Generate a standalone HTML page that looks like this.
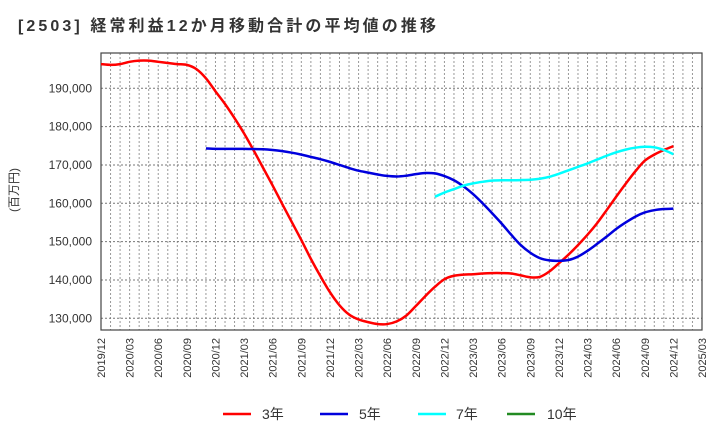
<!DOCTYPE html>
<html><head><meta charset="utf-8">
<style>
body{margin:0;background:#fff;font-family:"Liberation Sans","Noto Sans CJK JP",sans-serif;}
svg text{font-family:"Liberation Sans","Noto Sans CJK JP",sans-serif;}
</style></head>
<body>
<svg id="chart" width="720" height="440" xmlns="http://www.w3.org/2000/svg">
<text x="18" y="31" font-size="16" font-weight="bold" fill="#333" textLength="418" lengthAdjust="spacing">[2503]  経常利益12か月移動合計の平均値の推移</text>
<text transform="translate(18,190) rotate(-90)" text-anchor="middle" font-size="12" fill="#333">(百万円)</text>
<g id="grid"></g>
<g id="axes"></g>
<g id="series"></g>
<g font-size="14" fill="#333">
 <g><line x1="223" y1="414" x2="251" y2="414" stroke="#ff0000" stroke-width="2.5"/><text x="262" y="419">3年</text></g>
 <g><line x1="320" y1="414" x2="348" y2="414" stroke="#0000dd" stroke-width="2.5"/><text x="359" y="419">5年</text></g>
 <g><line x1="418" y1="414" x2="446" y2="414" stroke="#00ffff" stroke-width="2.5"/><text x="456" y="419">7年</text></g>
 <g><line x1="507" y1="414" x2="535" y2="414" stroke="#228b22" stroke-width="2.5"/><text x="547" y="419">10年</text></g>
</g>
</svg>
<script>
const xTickLabels=["2019/12","2020/03","2020/06","2020/09","2020/12","2021/03","2021/06","2021/09","2021/12","2022/03","2022/06","2022/09","2022/12","2023/03","2023/06","2023/09","2023/12","2024/03","2024/06","2024/09","2024/12","2025/03"];
const yTicks=[130000,140000,150000,160000,170000,180000,190000];
const series3y=[196300,196100,196300,196900,197200,197200,196900,196600,196300,196100,195000,192600,189200,185900,182200,178200,173800,169200,164600,159800,155100,150400,145500,141000,136800,133400,131000,129700,129000,128500,128500,129200,130700,133200,135800,138200,140200,141100,141400,141500,141700,141800,141800,141700,141200,140700,140800,142200,144350,146600,149100,151800,154800,158200,161700,165100,168300,171100,172700,173900,174900];
const series5yStart=11;
const series5y=[174300,174200,174200,174200,174200,174150,174100,173900,173600,173200,172700,172100,171500,170800,170000,169200,168500,168000,167500,167150,167000,167200,167600,167900,167800,167100,166000,164400,162400,160000,157400,154700,151800,149100,147100,145700,145100,145000,145200,146100,147600,149400,151300,153300,155000,156500,157600,158200,158500,158600];
const series7yStart=35;
const series7y=[161700,162800,163700,164600,165200,165600,165900,166000,166000,166050,166150,166400,166900,167700,168600,169500,170400,171400,172400,173300,174000,174500,174750,174600,173900,172800];

const L=101,R=702,T=53,B=330,NM=63;
const yMin=126950,yMax=199200;
const X=i=>L+i*(R-L)/NM;
const Y=v=>B-(v-yMin)/(yMax-yMin)*(B-T);
const NS="http://www.w3.org/2000/svg";
function mk(tag,attrs,parent){const e=document.createElementNS(NS,tag);for(const k in attrs)e.setAttribute(k,attrs[k]);parent.appendChild(e);return e;}
const grid=document.getElementById('grid'),axes=document.getElementById('axes'),ser=document.getElementById('series');
for(let i=1;i<NM;i++){
 const l=mk('line',{x1:X(i),x2:X(i),y1:T,y2:B,stroke:'#999','stroke-width':1,'stroke-dasharray':'2,2'},grid);
 
 
}
yTicks.forEach(v=>{
 const l=mk('line',{x1:L,x2:R,y1:Y(v),y2:Y(v),stroke:'#777','stroke-width':1,'stroke-dasharray':'2,2'},grid);
 
 
 const t=mk('text',{x:92,y:Y(v)+4,'text-anchor':'end','font-size':12,fill:'#333'},axes);
 t.textContent=v.toLocaleString('en-US');
 
 
});
xTickLabels.forEach((s,k)=>{
 const x=X(k*3);
 const t=mk('text',{transform:`translate(${x+4},338) rotate(-90)`,'text-anchor':'end','font-size':11,fill:'#333'},axes);
 t.textContent=s;
 
 
});
const frame=mk('rect',{x:L,y:T,width:R-L,height:B-T,fill:'none',stroke:'#444','stroke-width':1.2},axes);


function path(vals,start){
 const p=vals.map((v,i)=>[X(start+i),Y(v)]);
 let d=`M${p[0][0]},${p[0][1]}`;
 for(let i=0;i<p.length-1;i++){
  const p0=p[Math.max(0,i-1)],p1=p[i],p2=p[i+1],p3=p[Math.min(p.length-1,i+2)];
  const c1=[p1[0]+(p2[0]-p0[0])/6,p1[1]+(p2[1]-p0[1])/6];
  const c2=[p2[0]-(p3[0]-p1[0])/6,p2[1]-(p3[1]-p1[1])/6];
  d+=`C${c1[0]},${c1[1]} ${c2[0]},${c2[1]} ${p2[0]},${p2[1]}`;
 }
 return d;
}
const s3=mk('path',{d:path(series3y,0),fill:'none',stroke:'#ff0000','stroke-width':2.5},ser);


const s5=mk('path',{d:path(series5y,series5yStart),fill:'none',stroke:'#0000dd','stroke-width':2.5},ser);


const s7=mk('path',{d:path(series7y,series7yStart),fill:'none',stroke:'#00ffff','stroke-width':2.5},ser);


</script>
</body></html>
